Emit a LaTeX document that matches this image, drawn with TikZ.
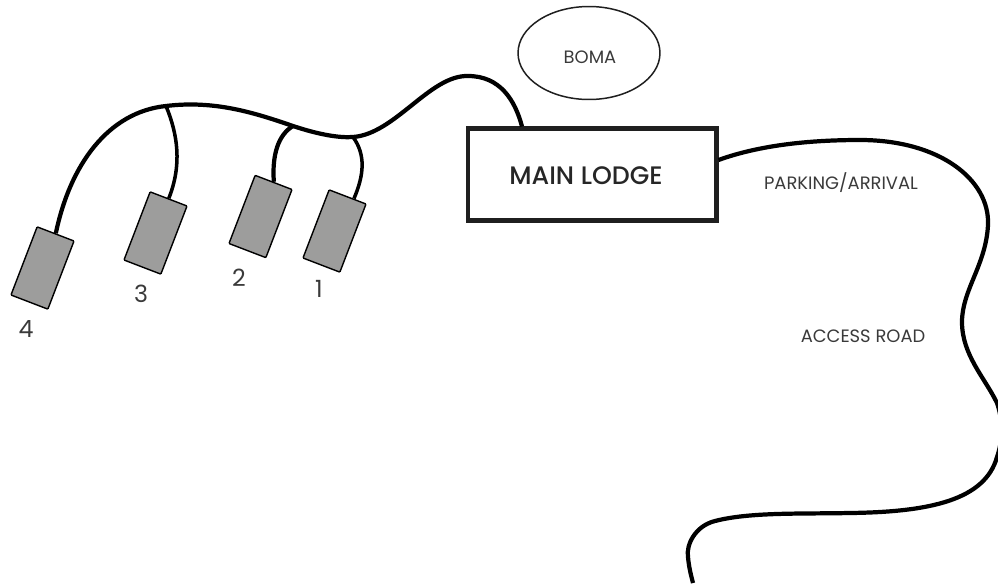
\documentclass[tikz,border=0pt]{standalone}
\usepackage{fontspec}
\setmainfont{Poppins}
\newfontfamily\lodgefont{Poppins Medium}
\usepackage{tikz}
\usetikzlibrary{shapes.geometric,positioning,calc}
\definecolor{inkgray}{HTML}{3A3A3A}
\definecolor{hutgray}{HTML}{9D9D9C}

\begin{document}
\begin{tikzpicture}[
    x=0.02cm, y=-0.02cm,
    road/.style={line width=2.4pt, black},
    hut/.style={rectangle, draw, fill=hutgray, line width=0.8pt, rounded corners=0.5pt, minimum width=0.79cm, minimum height=1.46cm, rotate=-21},
    hutnum/.style={text=inkgray, font=\fontsize{13.5}{15}\selectfont},
    place/.style={text=inkgray, font=\fontsize{10.2}{12}\selectfont}
]
\useasboundingbox (0,0) rectangle (998,585);

% Lodge and boma
\node[rectangle, draw=black!88, line width=2.3pt, minimum width=4.98cm, minimum height=1.84cm] (lodge) at (592,174.5) {};
\node[text=black!85, font=\fontsize{14.4}{16}\lodgefont] (lodgetext) at (586,176) {MAIN LODGE};
\node[ellipse, draw=black!88, line width=0.85pt, minimum width=2.84cm, minimum height=1.86cm] (boma) at (589,53) {};
\node[place] (bomatext) at (590,57) {BOMA};

% Huts
\node[hut] (h1) at (334.5,231) {};
\node[hut] (h2) at (260.5,216.5) {};
\node[hut] (h3) at (155.5,233) {};
\node[hut] (h4) at (42.5,268) {};

% Labels
\node[hutnum] (n1) at (319,289) {1};
\node[hutnum] (n2) at (239,278) {2};
\node[hutnum] (n3) at (141,294) {3};
\node[hutnum] (n4) at (26,329) {4};
\node[place] (parking) at (841,183) {PARKING/ARRIVAL};
\node[place] (access) at (863,336) {ACCESS ROAD};

% Junctions on the path
\coordinate (j3) at (166,106);
\coordinate (j2) at (293,126);
\coordinate (j1) at (353,137);
\coordinate (roadend) at (693,583);

% Paths
\draw[road] (h4.north) .. controls (70,165) and (108,112) .. (j3)
    .. controls (215,100) and (255,113) .. (j2)
    .. controls (320,135) and (340,138) .. (j1)
    .. controls (395,134) and (430,75) .. (468,76)
    .. controls (500,76) and (515,100) .. (lodge.north -| 522,128);
\draw[road, line width=2pt] (j3) .. controls (178,135) and (182,165) .. (h3.north);
\draw[road] (j2) .. controls (278,135) and (272,155) .. (h2.north);
\draw[road, line width=2pt] (j1) .. controls (366,155) and (364,175) .. (h1.80);
\draw[road] (lodge.east |- 0,160) .. controls (760,145) and (810,140) .. (860,140)
    .. controls (940,140) and (990,180) .. (988,225)
    .. controls (986,265) and (962,290) .. (962,322)
    .. controls (962,355) and (985,378) .. (997,403)
    .. controls (1003,420) and (1003,440) .. (997,457)
    .. controls (985,500) and (930,512) .. (850,513)
    .. controls (800,514) and (750,512) .. (715,521)
    .. controls (695,526) and (686,545) .. (688,557)
    .. controls (689,568) and (691,575) .. (roadend);
\end{tikzpicture}
\end{document}
